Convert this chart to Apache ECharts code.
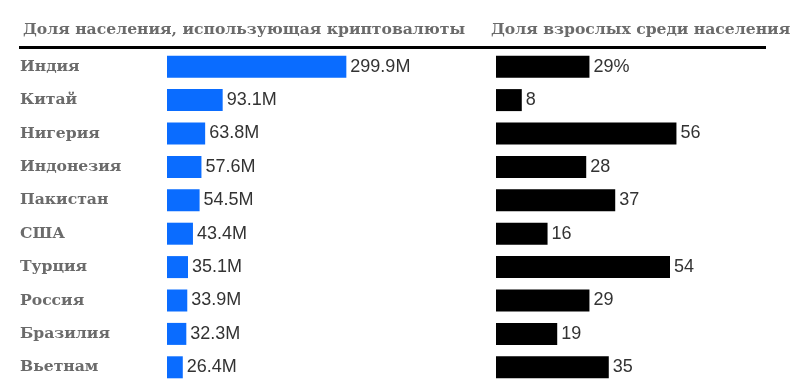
<!DOCTYPE html>
<html><head><meta charset="utf-8">
<script src="https://cdn.jsdelivr.net/npm/echarts@6/dist/echarts.min.js"></script>
<style>html,body{margin:0;padding:0;background:#fff}#c{width:799px;height:389px}</style>
</head><body><div id="c"></div>
<script>
const countries = ['Индия','Китай','Нигерия','Индонезия','Пакистан','США','Турция','Россия','Бразилия','Вьетнам'];
const usersM = [299.9, 93.1, 63.8, 57.6, 54.5, 43.4, 35.1, 33.9, 32.3, 26.4];
const adultShare = [29, 8, 56, 28, 37, 16, 54, 29, 19, 35];
const titleLeft = 'Доля населения, использующая криптовалюты';
const titleRight = 'Доля взрослых среди населения';

const chart = echarts.init(document.getElementById('c'));
const headFont = {fontFamily:'DejaVu Serif', fontWeight:'bold', fontSize:15.6, color:'#6b6b6b'};
const valFont = {fontFamily:'Liberation Sans', fontSize:18, color:'#333'};
chart.setOption({
  animation:false,
  title:[
    {text:titleLeft, left:18, top:17, textStyle:headFont},
    {text:titleRight, left:486, top:17, textStyle:headFont}
  ],
  graphic:[{type:'line', shape:{x1:19,y1:47.5,x2:766,y2:47.5}, style:{stroke:'#000', lineWidth:3}}],
  grid:[
    {left:167, top:50, width:299, height:334},
    {left:496, top:50, width:290, height:334}
  ],
  xAxis:[
    {gridIndex:0, type:'value', min:0, max:500, show:false},
    {gridIndex:1, type:'value', min:0, max:90, show:false}
  ],
  yAxis:[
    {gridIndex:0, type:'category', data:countries, inverse:true,
     axisLine:{show:false}, axisTick:{show:false},
     axisLabel:{align:'left', margin:147, fontFamily:'DejaVu Serif', fontWeight:'bold', fontSize:15.6, color:'#6b6b6b'}},
    {gridIndex:1, type:'category', data:countries, inverse:true, show:false}
  ],
  series:[
    {type:'bar', xAxisIndex:0, yAxisIndex:0, data:usersM, barWidth:22,
     itemStyle:{color:'#0a6cff'},
     label:{show:true, position:'right', distance:4, formatter:p=>p.value+'M', ...valFont}},
    {type:'bar', xAxisIndex:1, yAxisIndex:1, data:adultShare, barWidth:22,
     itemStyle:{color:'#000'},
     label:{show:true, position:'right', distance:4, formatter:p=>p.dataIndex===0?p.value+'%':String(p.value), ...valFont}}
  ]
});
</script></body></html>
